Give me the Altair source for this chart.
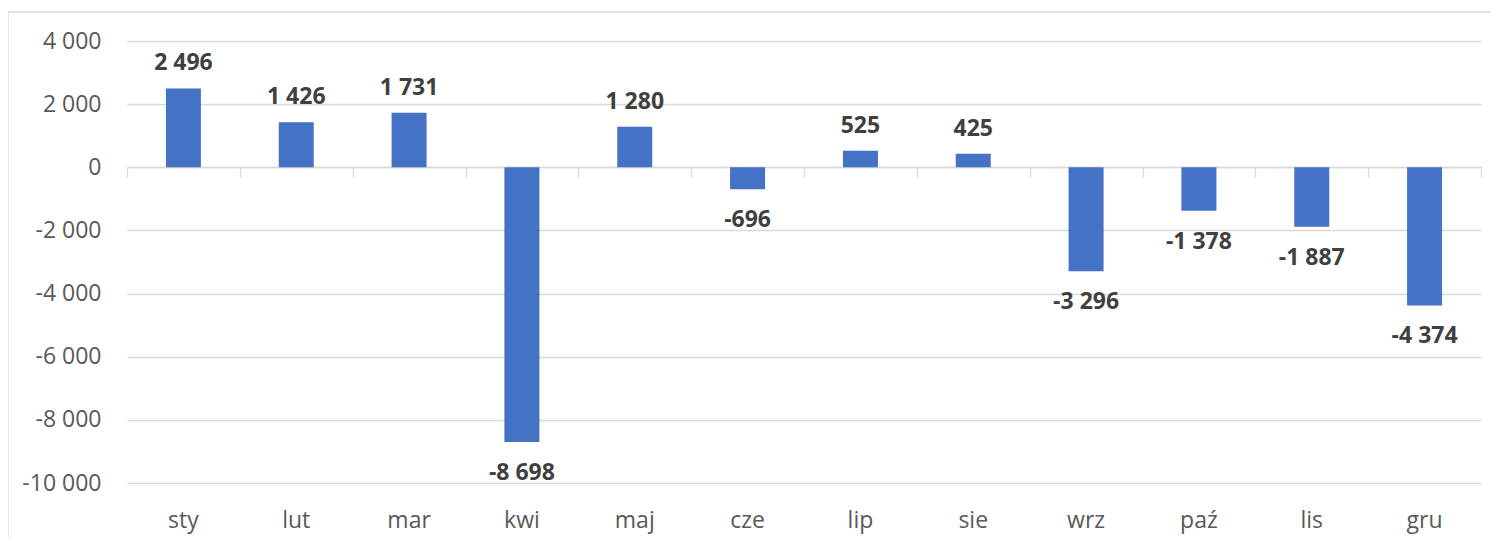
import altair as alt
import pandas as pd

months = ["sty", "lut", "mar", "kwi", "maj", "cze", "lip", "sie", "wrz", "paź", "lis", "gru"]
values = [2496, 1426, 1731, -8698, 1280, -696, 525, 425, -3296, -1378, -1887, -4374]
y_ticks = [-10000, -8000, -6000, -4000, -2000, 0, 2000, 4000]

df = pd.DataFrame({"month": months, "value": values})

W, H = 1354, 442
PAD = {"left": 119, "top": 33, "right": 10, "bottom": 54}
FONT = "Open Sans"
GRID = "#d9d9d9"
FS = 23

x_scale = alt.Scale(domain=months, paddingInner=0, paddingOuter=0)
y_scale = alt.Scale(domain=[-10000, 4000], nice=False, zero=False)
y_axis = alt.Axis(values=y_ticks, format=",.0f", title=None, domain=False, ticks=False,
                  labelFontSize=FS, labelFont=FONT, labelColor="#595959",
                  labelPadding=26, gridColor=GRID, gridWidth=1.3)


def y_enc():
    return alt.Y("value:Q", scale=y_scale, axis=y_axis)


base = alt.Chart(df)

bars = base.mark_bar(size=35, color="#4472C4").encode(
    x=alt.X("month:N", sort=months, scale=x_scale,
            axis=alt.Axis(orient="bottom", title=None, domain=False, ticks=False,
                          labelAngle=0, labelFontSize=FS, labelFont=FONT,
                          labelColor="#595959", labelPadding=26, grid=False)),
    y=y_enc(),
)

zero_axis = base.mark_rule(opacity=0).encode(
    x=alt.X("month:N", sort=months, scale=x_scale,
            axis=alt.Axis(orient="bottom", offset=-316, title=None, labels=False,
                          domain=True, domainColor=GRID, domainWidth=1.3,
                          ticks=True, tickBand="extent", tickSize=10,
                          tickColor=GRID, tickWidth=1.3, grid=False)),
    y=y_enc(),
)

pos_labels = base.transform_filter("datum.value >= 0").mark_text(
    baseline="alphabetic", dy=-18, fontWeight="bold", fontSize=FS, font=FONT, color="#404040"
).encode(
    x=alt.X("month:N", sort=months, scale=x_scale, axis=None),
    y=y_enc(),
    text=alt.Text("value:Q", format=","),
)

neg_labels = base.transform_filter("datum.value < 0").mark_text(
    baseline="alphabetic", dy=38, fontWeight="bold", fontSize=FS, font=FONT, color="#404040"
).encode(
    x=alt.X("month:N", sort=months, scale=x_scale, axis=None),
    y=y_enc(),
    text=alt.Text("value:Q", format=","),
)

border = alt.Chart(pd.DataFrame({"b": [0]})).mark_rect(
    filled=False, stroke=GRID, strokeWidth=1.3
).encode(
    x=alt.value(-119), x2=alt.value(W + PAD["right"] + 5),
    y=alt.value(-29), y2=alt.value(H + PAD["bottom"] + 5),
)

chart = alt.layer(border, bars, zero_axis, pos_labels, neg_labels).resolve_axis(
    x="independent"
).properties(
    width=W, height=H, padding=PAD, autosize=alt.AutoSizeParams(type="none")
).configure(
    locale={"number": {"decimal": ",", "thousands": " ", "grouping": [3],
                       "currency": ["", " zł"], "minus": "-"}}
).configure_view(stroke=None)

chart.save("out.html", embed_options={"renderer": "svg", "actions": False})
